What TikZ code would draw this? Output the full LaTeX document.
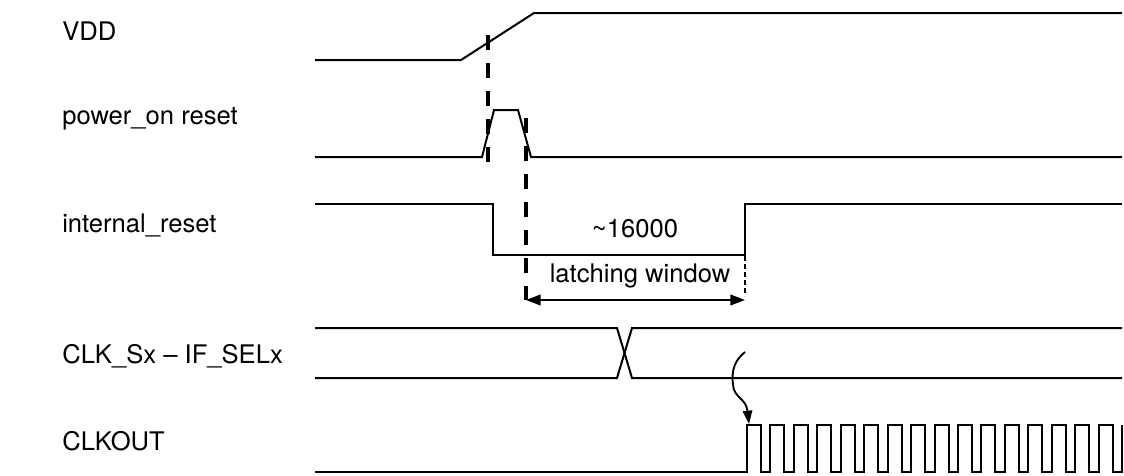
\documentclass[tikz,border=0pt]{standalone}
\usepackage{fontspec}
\setmainfont{TeX Gyre Heros}
\usetikzlibrary{arrows.meta}
\begin{document}
\begin{tikzpicture}[x=0.75pt,y=-0.75pt,
  sig/.style={line width=1.5pt, line join=miter},
  vdash/.style={line width=2.8pt, dash pattern=on 11pt off 10pt},
  thindash/.style={line width=0.9pt, dash pattern=on 4pt off 2pt},
  lbl/.style={anchor=base west, inner sep=0pt, font=\fontsize{19.2}{22}\selectfont},
  clbl/.style={anchor=base, inner sep=0pt, font=\fontsize{19.2}{22}\selectfont},
  wtip/.tip={Triangle[length=11pt,width=8pt]}]
\useasboundingbox (0,0) rectangle (1124,475);

% labels
\node[lbl] (lvdd) at (62,40) {VDD};
\node[lbl] (lpor) at (62,124) {power\_on reset};
\node[lbl] (lir) at (62,232) {internal\_reset};
\node[lbl] (lbus) at (62,363) {CLK\_Sx – IF\_SELx};
\node[lbl] (lclk) at (62,450) {CLKOUT};

% VDD
\draw[sig] (315,60) -- (461,60) -- (534,13) -- (1122,13);
% power_on reset
\draw[sig] (315,157) -- (482,157) -- (494,110) -- (518,110) -- (531,157) -- (1122,157);
% internal_reset
\draw[sig] (315,204) -- (493,204) -- (493,255) -- (745,255) -- (745,204) -- (1122,204);
% bus
\draw[sig] (315,328) -- (617,328) -- (632,378) -- (1122,378);
\draw[sig] (315,378) -- (617,378) -- (632,328) -- (1122,328);
% CLKOUT
\draw[sig] (315,472)
  foreach \k in {0,...,15} {
    -- ({747+\k*23.44},472) -- ({747+\k*23.44},425)
    -- ({761+\k*23.44},425) -- ({761+\k*23.44},472) }
  -- (1122,472) -- (1122,425);

% dashed markers
\coordinate (d1t) at (488,35);
\coordinate (d1b) at (488,172);
\draw[vdash] (d1t) -- (d1b);
\coordinate (d2t) at (526,118);
\coordinate (d2b) at (526,300);
\draw[vdash] (d2t) -- (d2b);
\coordinate (d3t) at (745,256);
\coordinate (d3b) at (745,296);
\draw[thindash] (d3t) -- (d3b);

% latching window
\coordinate (wa) at (526,300);
\coordinate (wb) at (745,300);
\draw[line width=1.5pt, wtip-wtip] (wa) -- (wb);
\node[clbl] (n16) at (635,237) {\textasciitilde16000};
\node[clbl] (nlw) at (640,282) {latching window};

% wavy arrow
\coordinate (ws) at (745,352);
\coordinate (we) at (749,424);
\draw[line width=1.4pt, -{Triangle[length=10pt,width=7pt]}]
  (ws) .. controls (735,360) and (731,370) .. (733,385)
       .. controls (734,398) and (746,398) .. (we);
\end{tikzpicture}
\end{document}
